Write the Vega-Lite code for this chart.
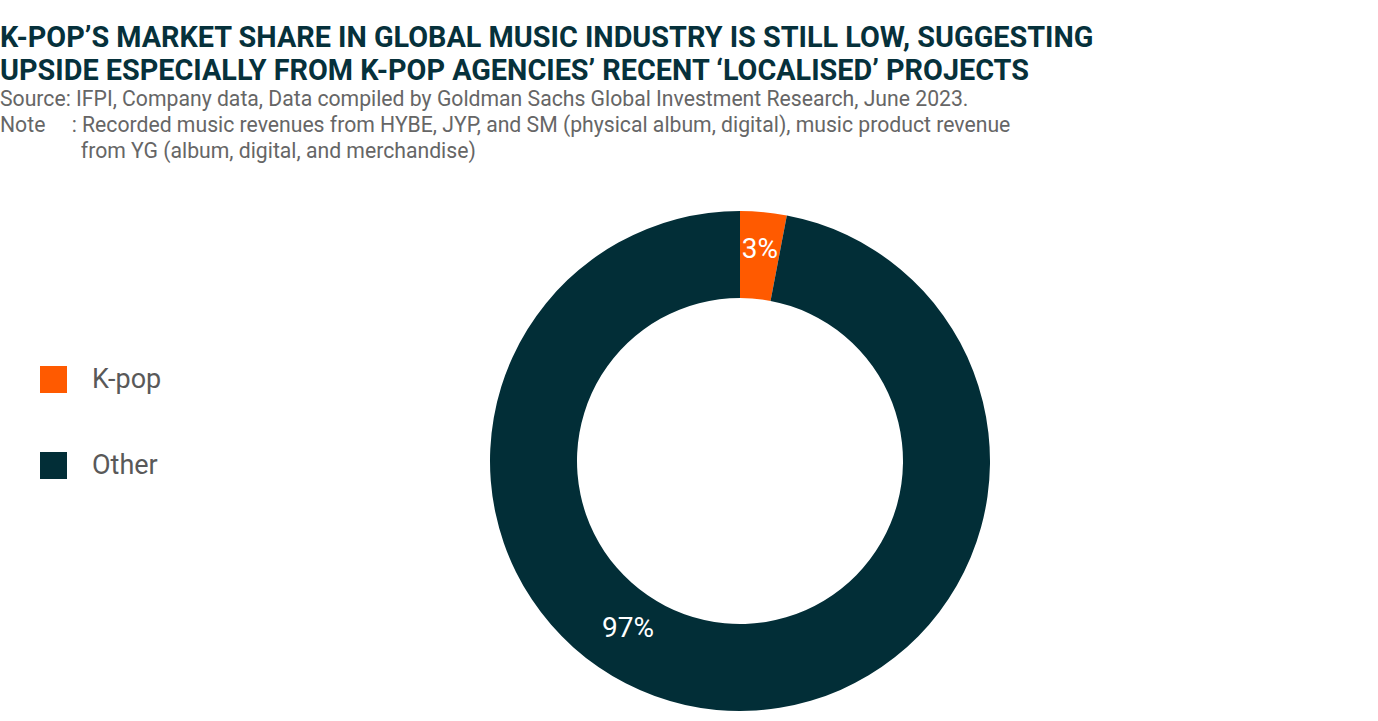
{
  "$schema": "https://vega.github.io/schema/vega-lite/v6.json",
  "width": 1378,
  "height": 721,
  "autosize": {"type": "fit", "contains": "padding"},
  "padding": {"top": 23, "left": 0, "right": 0, "bottom": 0},
  "background": "white",
  "title": {
    "text": ["K-POP’S MARKET SHARE IN GLOBAL MUSIC INDUSTRY IS STILL LOW, SUGGESTING", "UPSIDE ESPECIALLY FROM K-POP AGENCIES’ RECENT ‘LOCALISED’ PROJECTS"],
    "subtitle": [
      "Source: IFPI, Company data, Data compiled by Goldman Sachs Global Investment Research, June 2023.",
      "Note\u00a0\u00a0\u00a0\u00a0\u00a0: Recorded music revenues from HYBE, JYP, and SM (physical album, digital), music product revenue",
      "\u200b\u2002\u2002\u2002\u2002\u2002\u2002\u2002\u00a0from YG (album, digital, and merchandise)"
    ],
    "anchor": "start",
    "frame": "group",
    "dx": -102,
    "font": "Roboto",
    "fontSize": 28.8,
    "fontWeight": "bold",
    "color": "#06313B",
    "lineHeight": 33,
    "subtitleFont": "Roboto",
    "subtitleFontSize": 21.2,
    "subtitleColor": "#666666",
    "subtitleLineHeight": 26,
    "subtitlePadding": 4,
    "offset": 38.5
  },
  "data": {
    "values": [
      {"category": "K-pop", "share": 0.03},
      {"category": "Other", "share": 0.97}
    ]
  },
  "encoding": {
    "theta": {"field": "share", "type": "quantitative", "stack": true},
    "color": {
      "field": "category",
      "type": "nominal",
      "scale": {"domain": ["K-pop", "Other"], "range": ["#FF5A00", "#022E37"]},
      "legend": {
        "title": null,
        "orient": "none",
        "legendX": -62,
        "legendY": 165,
        "symbolType": "square",
        "symbolSize": 729,
        "symbolStrokeWidth": 0,
        "labelFont": "Roboto",
        "labelFontSize": 27,
        "labelColor": "#595959",
        "labelOffset": 25,
        "rowPadding": 58,
        "padding": 0
      }
    },
    "order": {"field": "category", "type": "nominal", "sort": "ascending"}
  },
  "layer": [
    {"mark": {"type": "arc", "outerRadius": 250, "innerRadius": 163}},
    {
      "mark": {
        "type": "text",
        "radius": 212,
        "font": "Roboto",
        "fontSize": 28,
        "align": "center",
        "baseline": "middle",
        "dx": {"expr": "datum.category === 'Other' ? -92 : 0"},
        "dy": {"expr": "datum.category === 'Other' ? -43 : 0"}
      },
      "encoding": {
        "text": {"field": "share", "type": "quantitative", "format": ".0%"},
        "color": {"value": "white"}
      }
    }
  ]
}
